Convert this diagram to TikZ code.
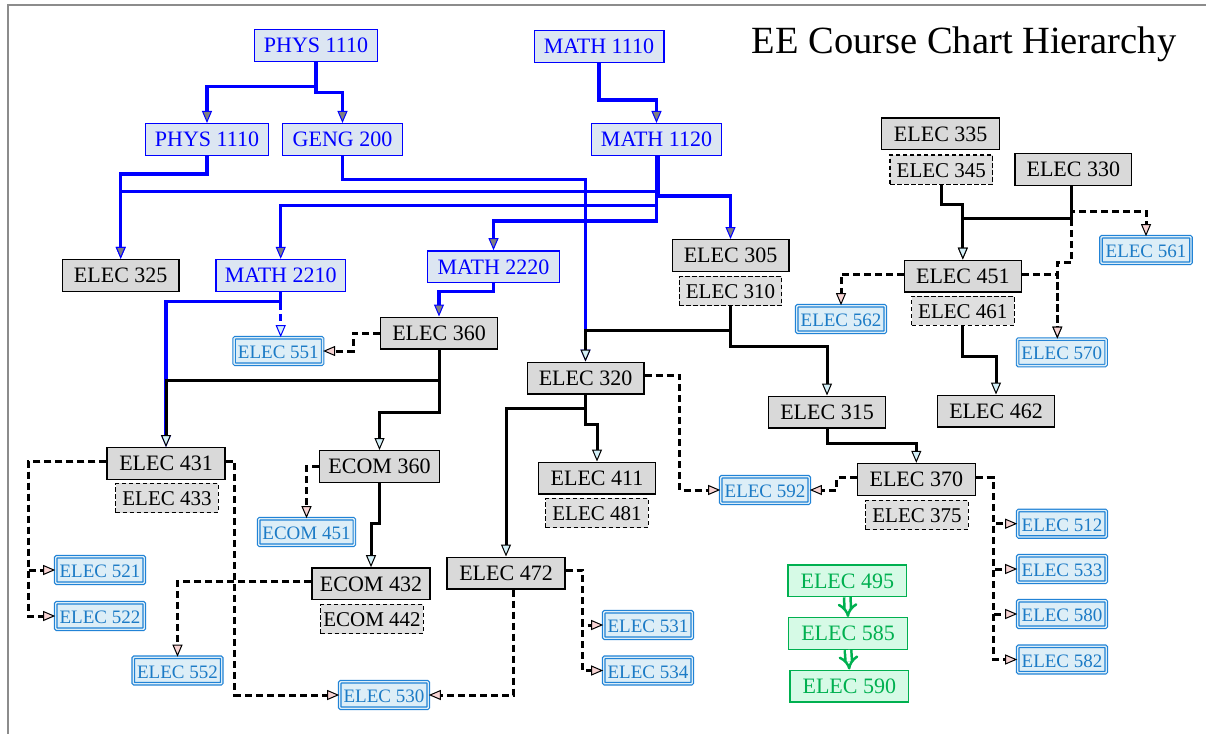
\documentclass[tikz,border=0pt]{standalone}
\usepackage{fontspec}
\setmainfont{Liberation Serif}
\usetikzlibrary{arrows.meta}
\definecolor{bfill}{HTML}{DCE6F2}
\definecolor{gfill}{HTML}{D9D9D9}
\definecolor{dfill}{HTML}{DFDFDF}
\definecolor{cfill}{HTML}{DDEEF7}
\definecolor{cline}{HTML}{2183D6}
\definecolor{ctext}{HTML}{1C7BC6}
\definecolor{grn}{HTML}{00B050}
\definecolor{grfill}{HTML}{D6FAE6}
\definecolor{tipgray}{HTML}{808080}
\definecolor{tipcyan}{HTML}{D4F0F8}
\definecolor{tippink}{HTML}{F8D4D4}
\definecolor{framec}{HTML}{8C8C8C}
\tikzset{
  basebox/.style={font=\fontsize{22}{24}\selectfont, text height=14.6pt, text depth=0pt,
    inner sep=0pt, minimum height=31.7pt, line width=1.3pt},
  grbox/.style={basebox, draw=black, fill=gfill, minimum width=#1},
  grbox/.default=116.7pt,
  blbox/.style={basebox, draw=blue, fill=bfill, text=blue, minimum width=#1},
  blbox/.default=129.7pt,
  gnbox/.style={basebox, draw=grn, fill=grfill, text=grn, minimum width=118.7pt},
  dbox/.style={font=\fontsize{21}{23}\selectfont, text height=15.5pt, text depth=0pt,
    inner sep=0pt, minimum height=29.1pt, minimum width=102.6pt, draw=black,
    dash pattern=on 4.5pt off 2.5pt, line width=1.1pt, fill=dfill},
  cbox/.style={font=\fontsize{19}{21}\selectfont, text=ctext, text height=15.3pt, text depth=0pt,
    inner sep=0pt, minimum height=26.5pt, minimum width=#1, draw=cline, double=cfill,
    double distance=1.4pt, line width=1.1pt, fill=cfill, rounded corners=1pt},
  cbox/.default=88.5pt,
  bedge/.style={draw=blue, line width=3.2pt,
    -{Triangle[width=10pt,length=12pt,fill=tipgray,line width=1pt]}},
  bdedge/.style={draw=blue, line width=3.2pt, dash pattern=on 7pt off 4pt,
    -{Triangle[width=10pt,length=12pt,fill=tipcyan,line width=1pt]}},
  kedge/.style={draw=black, line width=3pt,
    -{Triangle[width=10pt,length=12pt,fill=tipcyan,line width=1pt]}},
  dedge/.style={draw=black, line width=3pt, dash pattern=on 7pt off 4pt,
    -{Triangle[width=10pt,length=12pt,fill=tippink,line width=1pt]}},
  gedge/.style={draw=grn, line width=2.5pt, double=white, double distance=4pt,
    -{Implies[length=7pt]}},
}
\begin{document}
\begin{tikzpicture}[x=1pt,y=-1pt]
\useasboundingbox (0,0) rectangle (1206,733);
\draw[framec, line width=2pt] (8,745) -- (8,5) -- (1220,5);

\node[anchor=base, font=\fontsize{38.5}{42}\selectfont] (title) at (964,53.3) {EE Course Chart Hierarchy};

% blue prerequisite nodes
\node[blbox=122.7pt] (p1) at (316,45.5) {PHYS 1110};
\node[blbox=122.7pt] (p2) at (207,139.5) {PHYS 1110};
\node[blbox=119.7pt] (geng) at (342.5,139.5) {GENG 200};
\node[blbox] (m1) at (599,46.5) {MATH 1110};
\node[blbox=130pt] (m2) at (656.5,139.5) {MATH 1120};
\node[blbox] (m2210) at (280.7,275.3) {MATH 2210};
\node[blbox=131.7pt] (m2220) at (493.5,266.7) {MATH 2220};

% gray course nodes
\node[grbox] (e325) at (120.7,275.3) {ELEC 325};
\node[grbox] (e305) at (730.5,255.5) {ELEC 305};
\node[dbox] (e310) at (730.5,291) {ELEC 310};
\node[grbox] (e360) at (439,333) {ELEC 360};
\node[grbox] (e320) at (585.5,378) {ELEC 320};
\node[grbox] (e411) at (597,478) {ELEC 411};
\node[dbox] (e481) at (597,513) {ELEC 481};
\node[grbox] (e315) at (827,412) {ELEC 315};
\node[grbox=118pt] (e335) at (940.7,133.8) {ELEC 335};
\node[dbox] (e345) at (941.3,169.5) {ELEC 345};
\node[grbox] (e330) at (1073.3,169.3) {ELEC 330};
\node[grbox] (e451) at (962.8,276) {ELEC 451};
\node[dbox] (e461) at (962.8,310.7) {ELEC 461};
\node[grbox] (e462) at (996,411) {ELEC 462};
\node[grbox=118pt] (e370) at (916.3,479.3) {ELEC 370};
\node[dbox] (e375) at (917,515) {ELEC 375};
\node[grbox=118pt] (e431) at (166,463.5) {ELEC 431};
\node[dbox] (e433) at (167,498) {ELEC 433};
\node[grbox=119.7pt] (c360) at (379.5,466.5) {ECOM 360};
\node[grbox=118pt] (c432) at (371,583.7) {ECOM 432};
\node[dbox] (c442) at (372,619) {ECOM 442};
\node[grbox=118pt] (e472) at (506,573) {ELEC 472};

% graduate nodes
\node[cbox] (e551) at (278.3,351) {ELEC 551};
\node[cbox=90pt] (e561) at (1146,250) {ELEC 561};
\node[cbox] (e562) at (841,319) {ELEC 562};
\node[cbox] (e570) at (1061.8,352.3) {ELEC 570};
\node[cbox] (e592) at (765,490) {ELEC 592};
\node[cbox] (e512) at (1062,523.7) {ELEC 512};
\node[cbox] (e533) at (1062,569) {ELEC 533};
\node[cbox] (e580) at (1062,614) {ELEC 580};
\node[cbox] (e582) at (1062,659.5) {ELEC 582};
\node[cbox] (e521) at (100,570) {ELEC 521};
\node[cbox] (e522) at (100,616) {ELEC 522};
\node[cbox=95.6pt] (c451) at (306.5,532) {ECOM 451};
\node[cbox] (e552) at (177.5,670.5) {ELEC 552};
\node[cbox] (e530) at (384,695) {ELEC 530};
\node[cbox] (e531) at (648,625) {ELEC 531};
\node[cbox] (e534) at (648,670.5) {ELEC 534};

% green nodes
\node[gnbox] (e495) at (847.3,580.7) {ELEC 495};
\node[gnbox] (e585) at (848,633.5) {ELEC 585};
\node[gnbox] (e590) at (849.3,686) {ELEC 590};

% blue edges
\draw[bedge] (p1.south) -- (p1.south |- 0,86.7) -| (p2.north);
\draw[bedge] (p1.south) -- (p1.south |- 0,92.7) -| (geng.north);
\draw[bedge] (m1.south) -- (m1.south |- 0,100) -| (m2.north);
\draw[bedge] (p2.south) -- (p2.south |- 0,174) -| (e325.north);
\draw[bedge] (m2.south) -- (m2.south |- 0,191.7) -| (e325.north);
\draw[bedge] (geng.south) -- (geng.south |- 0,179.3) -| (e320.north);
\draw[bedge] (m2.south) -- (m2.south |- 0,205.7) -| (m2210.north);
\draw[bedge] (m2.south) -- (m2.south |- 0,221) -| (m2220.north);
\draw[bedge] ([xshift=1.5pt]m2.south) -- ([xshift=1.5pt]m2.south |- 0,196) -| (e305.north);
\draw[bedge] (m2220.south) -- (m2220.south |- 0,291.7) -| (e360.north);
\draw[bedge] (m2210.south) -- (m2210.south |- 0,301.7) -| (e431.north);
\draw[bdedge] (m2210.south) -- (m2210.south |- e551.north);

% black solid edges
\draw[kedge] (e360.south) -- (e360.south |- 0,380.7) -| (e431.north);
\draw[kedge] (e360.south) -- (e360.south |- 0,412.3) -| (c360.north);
\draw[kedge] (e310.south) -- (e310.south |- 0,330) -| (e320.north);
\draw[kedge] (e310.south) -- (e310.south |- 0,346.7) -| (e315.north);
\draw[kedge] (e320.south) -- (e320.south |- 0,424.3) -| (e411.north);
\draw[kedge] (e320.south) -- (e320.south |- 0,408.3) -| (e472.north);
\draw[kedge] (c360.south) -- (c360.south |- 0,523.3) -| (c432.north);
\draw[kedge] (e315.south) -- (e315.south |- 0,443.3) -| (e370.north);
\draw[kedge] (e461.south) -- (e461.south |- 0,356.7) -| (e462.north);
\draw[kedge] (e345.south) -- (e345.south |- 0,204.7) -| (e451.north);
\draw[kedge] ([xshift=-2pt]e330.south) -- ([xshift=-2pt]e330.south |- 0,218.7) -| (e451.north);

% black dashed edges
\draw[dedge] ([xshift=-2pt]e330.south) -- ([xshift=-2pt]e330.south |- 0,211) -| (e561.north);
\draw[dedge] ([xshift=-2pt]e330.south) -- ([xshift=-2pt]e330.south |- 0,262.3) -| ([xshift=-4.5pt]e570.north);
\draw[dedge] ([yshift=2pt]e451.east) -| ([xshift=-4.5pt]e570.north);
\draw[dedge] ([yshift=2pt]e451.west) -| (e562.north);
\draw[dedge] (e360.west) -- ++(-27,0) |- (e551.east);
\draw[dedge] ([yshift=3pt]e320.east) -- ++(35,0) |- (e592.west);
\draw[dedge] ([yshift=1.5pt]e370.west) -- ++(-20,0) |- (e592.east);
\draw[dedge] ([yshift=1.5pt]e370.east) -- ++(17.7,0) |- (e512.west);
\draw[dedge] ([yshift=1.5pt]e370.east) -- ++(17.7,0) |- (e533.west);
\draw[dedge] ([yshift=1.5pt]e370.east) -- ++(17.7,0) |- (e580.west);
\draw[dedge] ([yshift=1.5pt]e370.east) -- ++(17.7,0) |- (e582.west);
\draw[dedge] ([yshift=2pt]e431.west) -- ++(-78,0) |- (e521.west);
\draw[dedge] ([yshift=2pt]e431.west) -- ++(-78,0) |- (e522.west);
\draw[dedge] ([yshift=2pt]e431.east) -- ++(9.3,0) |- (e530.west);
\draw[dedge] (c360.west) -| (c451.north);
\draw[dedge] ([yshift=2pt]c432.west) -| (e552.north);
\draw[dedge] ([xshift=7pt]e472.south) |- (e530.east);
\draw[dedge] ([yshift=3pt]e472.east) -- ++(16.6,0) |- (e531.west);
\draw[dedge] ([yshift=3pt]e472.east) -- ++(16.6,0) |- (e534.west);

% green edges
\draw[gedge] (e495.south) -- (e585.north);
\draw[gedge] (e585.south) -- (e590.north);
\end{tikzpicture}
\end{document}
